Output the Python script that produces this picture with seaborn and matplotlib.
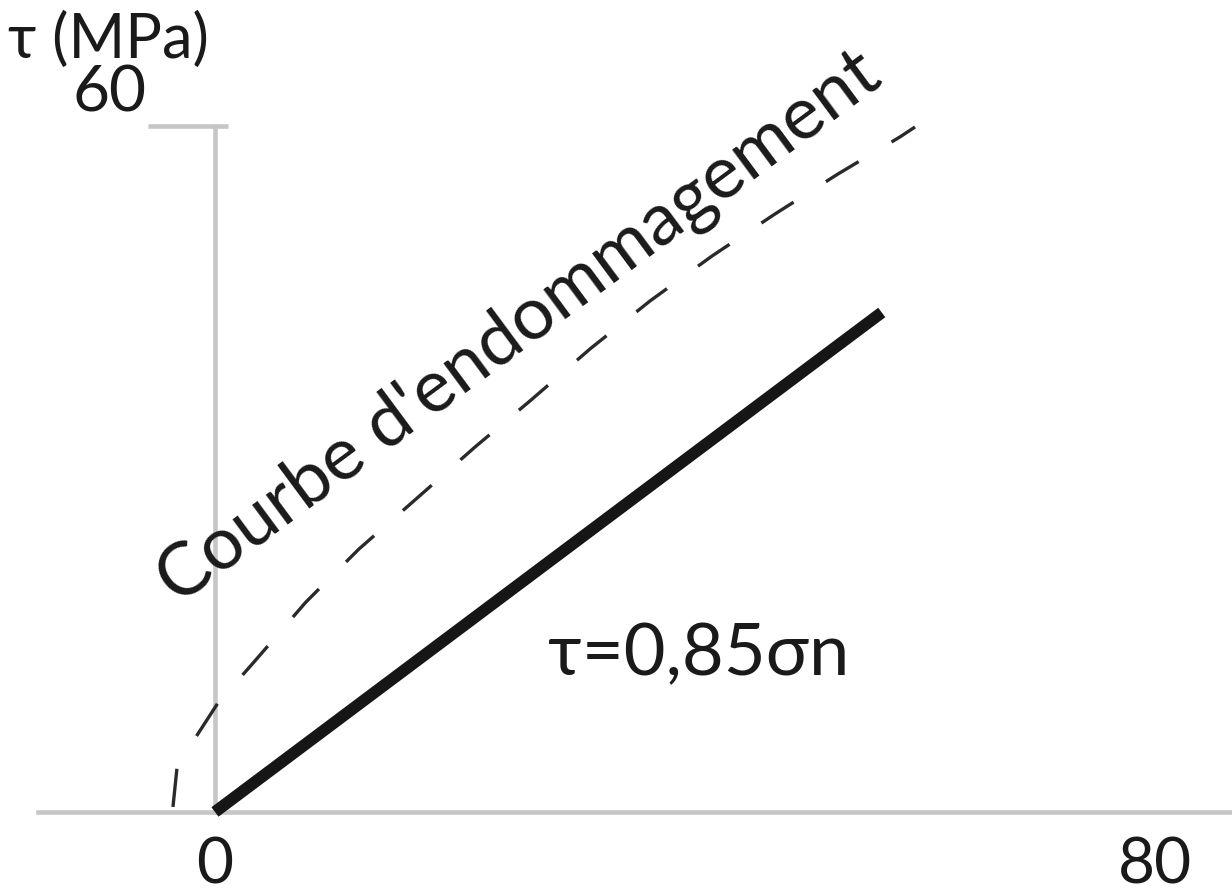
import matplotlib
matplotlib.use("Agg")
import matplotlib.pyplot as plt
from matplotlib.transforms import ScaledTranslation
import seaborn as sns
import pandas as pd

# Normal stress sigma_n (MPa) and shear stress tau (MPa)
sigma_friction = [0.0, 58.1]
tau_friction = [0.0, 43.7]

# Damage envelope (dashed curve)
sigma_damage = [-3.66, -3.31, -1.66, 0.26, 3.40, 7.93, 12.55, 17.52, 22.66,
                27.54, 32.68, 37.91, 43.31, 48.80, 54.29, 59.69, 61.0]
tau_damage = [0.44, 3.85, 6.56, 9.54, 13.12, 18.37, 23.01, 27.38, 31.93,
              36.04, 40.51, 44.71, 48.64, 52.32, 55.82, 59.06, 59.93]

x_ticks = [0, 80]
x_tick_labels = ["0", "80"]
y_top = 60
y_label = "τ (MPa)"
curve_label = "Courbe d'endommagement"
law_label = "τ=0,85σn"

sns.set_style("white")
plt.rcParams["font.family"] = ["Lato", "DejaVu Sans"]

FS = 46
TXT = "#1a1a1a"
AXC = "#c6c6c6"

fig = plt.figure(figsize=(12.32, 8.93), dpi=100)
ax = fig.add_axes([38 / 1232, 0.0, 1 - 38 / 1232, 1.0])
ax.set_xlim(-15.42, 88.62)
ax.set_ylim(-7.09, 71.04)

df_f = pd.DataFrame({"sigma": sigma_friction, "tau": tau_friction})
df_d = pd.DataFrame({"sigma": sigma_damage, "tau": tau_damage})

sns.lineplot(data=df_d, x="sigma", y="tau", ax=ax, color="#2a2a2a", lw=2.4,
             linestyle=(0, (11.5, 11.5)), errorbar=None, clip_on=False, zorder=3)
sns.lineplot(data=df_f, x="sigma", y="tau", ax=ax, color="#161616", lw=8.5,
             solid_capstyle="butt", errorbar=None, clip_on=False, zorder=4)

# axes through the origin
for s in ("top", "right"):
    ax.spines[s].set_visible(False)
ax.spines["left"].set_position(("data", 0))
ax.spines["left"].set_bounds(0, y_top)
ax.spines["bottom"].set_position(("data", 0))
for s in ("left", "bottom"):
    ax.spines[s].set_color(AXC)
    ax.spines[s].set_linewidth(3.3)
    ax.spines[s].set_zorder(1)

ax.set_yticks([])
ax.set_xticks(x_ticks)
ax.set_xticklabels(x_tick_labels, fontsize=FS, color=TXT)
ax.tick_params(axis="x", direction="out", length=15, width=2.0, color="#555555", pad=3)
ax.xaxis.get_major_ticks()[0].tick1line.set_visible(False)
lab80 = ax.get_xticklabels()[1]
lab80.set_transform(lab80.get_transform() + ScaledTranslation(0.22, 0, fig.dpi_scale_trans))
ax.set_xlabel("")
ax.set_ylabel("")

# top tick of the shear axis
ax.plot([-5.8, 1.1], [y_top, y_top], color=AXC, lw=3.3, clip_on=False, zorder=1,
        solid_capstyle="butt")
ax.text(-6.0, y_top + 0.3, str(y_top), fontsize=FS, color=TXT, ha="right", va="bottom")

fig.text(8 / 1232, 1 - 40 / 893, y_label, fontsize=FS - 2, color=TXT,
         ha="left", va="center")

ax.text(-3.2, 18.0, curve_label, fontsize=53, color=TXT, rotation=36.5,
        rotation_mode="anchor", ha="left", va="baseline")
ax.text(29.0, 12.0, law_label, fontsize=52, color=TXT, ha="left", va="baseline")

fig.savefig("out.png", dpi=100, facecolor="white")
